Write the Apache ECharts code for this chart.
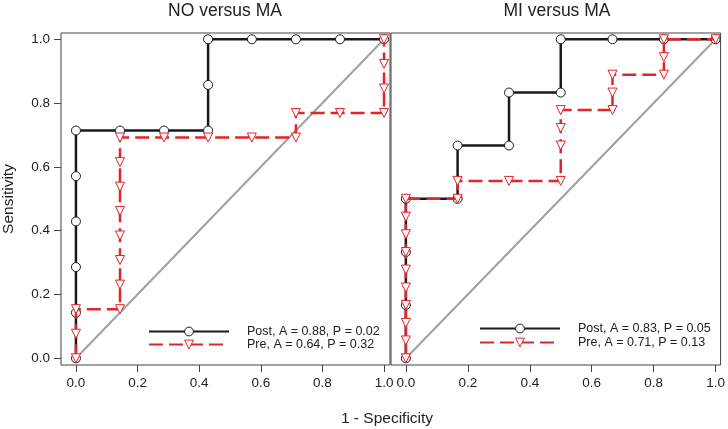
<!DOCTYPE html>
<html>
<head>
<meta charset="utf-8">
<script src="https://cdn.jsdelivr.net/npm/echarts@6/dist/echarts.min.js"></script>
<style>
html,body{margin:0;padding:0;background:#fff;}
#chart{width:728px;height:429px;}
</style>
</head>
<body>
<div id="chart"></div>
<script>
// ---- data ----
const panelTitles = ['NO versus MA', 'MI versus MA'];
const tickValues = [0, 0.2, 0.4, 0.6, 0.8, 1.0];

// NO versus MA
const noPostFpr = [0, 0, 0, 0, 0, 0, 0.143, 0.286, 0.429, 0.429, 0.429, 0.571, 0.714, 0.857, 1];
const noPostTpr = [0, 0.143, 0.286, 0.429, 0.571, 0.714, 0.714, 0.714, 0.714, 0.857, 1, 1, 1, 1, 1];
const noPreFpr  = [0, 0, 0, 0.143, 0.143, 0.143, 0.143, 0.143, 0.143, 0.143, 0.143, 0.286, 0.429, 0.571, 0.714, 0.714, 0.857, 1, 1, 1, 1];
const noPreTpr  = [0, 0.077, 0.154, 0.154, 0.231, 0.308, 0.385, 0.462, 0.538, 0.615, 0.692, 0.692, 0.692, 0.692, 0.692, 0.769, 0.769, 0.769, 0.846, 0.923, 1];

// MI versus MA
const miPostFpr = [0, 0, 0, 0, 0.167, 0.167, 0.333, 0.333, 0.5, 0.5, 0.667, 0.833, 1];
const miPostTpr = [0, 0.167, 0.333, 0.5, 0.5, 0.667, 0.667, 0.833, 0.833, 1, 1, 1, 1];
const miPreFpr  = [0, 0, 0, 0, 0, 0, 0, 0, 0, 0, 0.167, 0.167, 0.333, 0.5, 0.5, 0.5, 0.5, 0.667, 0.667, 0.667, 0.833, 0.833, 0.833, 1];
const miPreTpr  = [0, 0.056, 0.111, 0.167, 0.222, 0.278, 0.333, 0.389, 0.444, 0.5, 0.5, 0.556, 0.556, 0.556, 0.667, 0.722, 0.778, 0.778, 0.833, 0.889, 0.889, 0.944, 1, 1];

const chanceX = [0, 1];
const chanceY = [0, 1];

const legendNames = [
  ['Post, A = 0.88, P = 0.02', 'Pre, A = 0.64, P = 0.32'],
  ['Post, A = 0.83, P = 0.05', 'Pre, A = 0.71, P = 0.13']
];
const xAxisTitle = '1 - Specificity';
const yAxisTitle = 'Sensitivity';

// ---- build ----
const zip = (xs, ys) => xs.map((x, i) => [x, ys[i]]);
const FONT = 'Liberation Sans, Arial, sans-serif';
const BLACK = '#1a1a1a';
const RED = '#e2242b';

function postSeries(name, idx, xs, ys) {
  return {
    type: 'line', name: name, xAxisIndex: idx, yAxisIndex: idx,
    data: zip(xs, ys), z: 3,
    symbol: 'circle', symbolSize: 9,
    lineStyle: { color: BLACK, width: 2.5 },
    itemStyle: { color: '#fff', borderColor: BLACK, borderWidth: 1 },
    emphasis: { disabled: true }, animation: false
  };
}
function preSeries(name, idx, xs, ys) {
  return {
    type: 'line', name: name, xAxisIndex: idx, yAxisIndex: idx,
    data: zip(xs, ys), z: 4,
    symbol: 'triangle', symbolRotate: 180, symbolSize: 9,
    lineStyle: { color: RED, width: 2.5, type: [14, 6] },
    itemStyle: { color: '#fff', borderColor: RED, borderWidth: 1 },
    emphasis: { disabled: true }, animation: false
  };
}
function chanceSeries(idx) {
  return {
    type: 'line', xAxisIndex: idx, yAxisIndex: idx, silent: true,
    data: zip(chanceX, chanceY), symbol: 'none', z: 2,
    lineStyle: { color: '#a0a0a0', width: 2 }, animation: false
  };
}
function xAxis(idx, min, max) {
  return {
    type: 'value', gridIndex: idx, min: min, max: max, position: 'bottom',
    axisLine: { show: false, onZero: false },
    axisTick: { show: true, inside: false, length: 7, customValues: tickValues, lineStyle: { color: '#444' } },
    axisLabel: { customValues: tickValues, formatter: v => v.toFixed(1), fontSize: 13.5, color: '#222', margin: 11, fontFamily: FONT },
    splitLine: { show: false }
  };
}
function yAxis(idx, showLabels) {
  return {
    type: 'value', gridIndex: idx, min: -0.021, max: 1.0197, position: 'left',
    axisLine: { show: false, onZero: false },
    axisTick: { show: showLabels, inside: false, length: 7, customValues: tickValues, lineStyle: { color: '#444' } },
    axisLabel: { show: showLabels, customValues: tickValues, formatter: v => v.toFixed(1), fontSize: 13.5, color: '#222', margin: 11, fontFamily: FONT },
    splitLine: { show: false },
    name: showLabels ? yAxisTitle : '', nameLocation: 'middle', nameRotate: 90, nameGap: 44,
    nameTextStyle: { fontSize: 15.5, color: '#222', fontFamily: FONT }
  };
}
function legend(left, top, gap, names) {
  return {
    left: left, top: top, orient: 'vertical', itemWidth: 80, itemHeight: 11, itemGap: gap, padding: 0,
    data: names, selectedMode: false,
    itemStyle: { borderWidth: 1 },
    textStyle: { fontSize: 12.5, color: '#222', fontFamily: FONT, padding: [0, 0, 0, 13] }
  };
}

const chart = echarts.init(document.getElementById('chart'), null, { renderer: 'canvas' });
chart.setOption({
  animation: false,
  backgroundColor: '#fff',
  grid: [
    { left: 60, top: 33, width: 330, height: 332, show: true, borderColor: '#444', borderWidth: 1, containLabel: false },
    { left: 391, top: 33, width: 332, height: 332, show: true, borderColor: '#444', borderWidth: 1, containLabel: false }
  ],
  xAxis: [xAxis(0, -0.0485, 1.0194), xAxis(1, -0.048, 1.016)],
  yAxis: [yAxis(0, true), yAxis(1, false)],
  legend: [legend(148, 325, 0, legendNames[0]), legend(479, 322, 1, legendNames[1])],
  series: [
    chanceSeries(0),
    postSeries(legendNames[0][0], 0, noPostFpr, noPostTpr),
    preSeries(legendNames[0][1], 0, noPreFpr, noPreTpr),
    chanceSeries(1),
    postSeries(legendNames[1][0], 1, miPostFpr, miPostTpr),
    preSeries(legendNames[1][1], 1, miPreFpr, miPreTpr)
  ],
  graphic: [
    { type: 'text', x: 225, y: 11, style: { text: panelTitles[0], align: 'center', verticalAlign: 'middle', font: '17.5px ' + FONT, fill: '#222' } },
    { type: 'text', x: 557, y: 11, style: { text: panelTitles[1], align: 'center', verticalAlign: 'middle', font: '17.5px ' + FONT, fill: '#222' } },
    { type: 'text', x: 387, y: 419, style: { text: xAxisTitle, align: 'center', verticalAlign: 'middle', font: '15.5px ' + FONT, fill: '#222' } }
  ]
});
</script>
</body>
</html>
